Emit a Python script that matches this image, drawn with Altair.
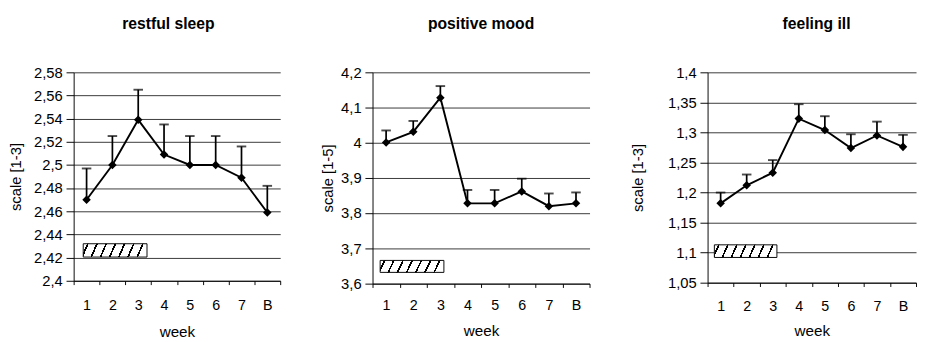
import altair as alt
import pandas as pd

weeks = ["1", "2", "3", "4", "5", "6", "7", "B"]

sleep_mean = [2.470, 2.500, 2.539, 2.509, 2.500, 2.500, 2.489, 2.459]
sleep_upper = [2.497, 2.525, 2.565, 2.535, 2.525, 2.525, 2.516, 2.482]
mood_mean = [4.001, 4.031, 4.128, 3.828, 3.828, 3.862, 3.820, 3.828]
mood_upper = [4.035, 4.062, 4.161, 3.866, 3.866, 3.898, 3.856, 3.859]
ill_mean = [1.182, 1.212, 1.233, 1.323, 1.304, 1.274, 1.295, 1.276]
ill_upper = [1.200, 1.230, 1.254, 1.347, 1.327, 1.297, 1.318, 1.296]

titles = ["restful sleep", "positive mood", "feeling ill"]
y_titles = ["scale [1-3]", "scale [1-5]", "scale [1-3]"]

sleep_ticks = [2.4, 2.42, 2.44, 2.46, 2.48, 2.5, 2.52, 2.54, 2.56, 2.58]
mood_ticks = [3.6, 3.7, 3.8, 3.9, 4.0, 4.1, 4.2]
ill_ticks = [1.05, 1.1, 1.15, 1.2, 1.25, 1.3, 1.35, 1.4]

# hatched bar (treatment period): extent in week units from the left edge and in scale units
bar_start = [0.37, 0.28, 0.26]
bar_end = [2.84, 2.63, 2.66]
bar_low = [2.4205, 3.632, 1.092]
bar_high = [2.432, 3.666, 1.113]

widths = [217, 228, 219]
heights = [219, 222, 221]
title_dx = [-9, 0, 5]
ytitle_pad = [11, 5, 23]
xlabel_pad = [14, 11, 13]
xtitle_pad = [13, 12, 11]

FONT = "Liberation Sans"


def hatch():
    n = 7
    half = 0.014
    stops = [alt.GradientStop(offset=0, color="white")]
    for k in range(n):
        c = (k + 0.5) / n
        stops += [
            alt.GradientStop(offset=c - half, color="white"),
            alt.GradientStop(offset=c - half, color="black"),
            alt.GradientStop(offset=c + half, color="black"),
            alt.GradientStop(offset=c + half, color="white"),
        ]
    stops.append(alt.GradientStop(offset=1, color="white"))
    return alt.LinearGradient(gradient="linear", stops=stops, x1=0, y1=0, x2=1, y2=0.09)


def panel(i, means, uppers, ticks):
    df = pd.DataFrame({"week": weeks, "mean": means, "upper": uppers})
    bar_df = pd.DataFrame({"s": [bar_start[i]], "e": [bar_end[i]],
                           "lo": [bar_low[i]], "hi": [bar_high[i]]})
    yscale = alt.Scale(domain=[ticks[0], ticks[-1]], nice=False, zero=False)
    xaxis = alt.Axis(title="week", labelAngle=0, tickBand="extent",
                     labelFontSize=15, titleFontSize=16, titleFontWeight="normal",
                     labelPadding=xlabel_pad[i], titlePadding=xtitle_pad[i], tickSize=4,
                     domainColor="black", tickColor="black",
                     labelColor="black", titleColor="black")
    xenc = alt.X("week:N", sort=weeks,
                 scale=alt.Scale(paddingInner=0, paddingOuter=0), axis=xaxis)
    yaxis = alt.Axis(values=ticks, title=y_titles[i],
                     labelExpr="replace(toString(datum.value), '.', ',')",
                     labelFontSize=15.5, titleFontSize=15.5, titleFontWeight="normal",
                     labelPadding=4, titlePadding=ytitle_pad[i], tickSize=8, labelOverlap=False,
                     grid=True, gridColor="#333333", gridWidth=1,
                     domainColor="black", tickColor="black",
                     labelColor="black", titleColor="black")
    yenc = alt.Y("mean:Q", scale=yscale, axis=yaxis)
    base = alt.Chart(df)
    rule = base.mark_rule(color="black", strokeWidth=1.8).encode(
        x=xenc, y=yenc, y2="upper:Q")
    cap = base.mark_tick(color="black", orient="horizontal", size=10, thickness=2).encode(
        x=xenc, y=alt.Y("upper:Q", scale=yscale, axis=yaxis))
    line = base.mark_line(color="black", strokeWidth=2).encode(x=xenc, y=yenc)
    pts = base.mark_point(shape="diamond", filled=True, color="black", size=80, opacity=1).encode(
        x=xenc, y=yenc)
    bar = alt.Chart(bar_df).mark_rect(fill=hatch(), stroke="black", strokeWidth=1).encode(
        x=alt.X("s:Q", scale=alt.Scale(domain=[0, 8], nice=False, zero=False), axis=None),
        x2="e:Q",
        y=alt.Y("lo:Q", scale=yscale, axis=yaxis),
        y2="hi:Q")
    inner = alt.layer(rule, cap, line, pts)
    layered = alt.layer(bar, inner).resolve_scale(x="independent")
    return layered.properties(
        width=widths[i], height=heights[i],
        title=alt.TitleParams(titles[i], fontSize=16.5, fontWeight="bold", font=FONT,
                              color="black", offset=35, dx=title_dx[i], anchor="middle",
                              frame="group"))


chart = alt.hconcat(
    panel(0, sleep_mean, sleep_upper, sleep_ticks),
    panel(1, mood_mean, mood_upper, mood_ticks),
    panel(2, ill_mean, ill_upper, ill_ticks),
    spacing=42,
).properties(
    padding={"left": 0, "top": 0, "right": 0, "bottom": 0}
).configure(font=FONT).configure_view(stroke=None).configure_axis(
    labelFont=FONT, titleFont=FONT)

chart.save("out.html", embed_options={"renderer": "svg", "actions": False})
